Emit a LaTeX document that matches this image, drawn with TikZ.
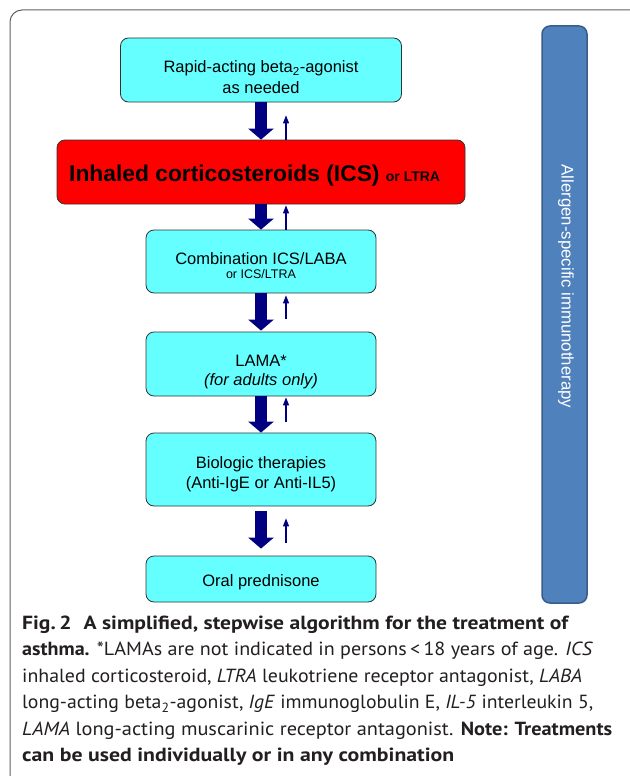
\documentclass[tikz,border=0pt]{standalone}
\usepackage{graphicx}
\usepackage{fontspec}
\setmainfont{Liberation Sans}
\newfontfamily\capfont{PT Sans}
\usetikzlibrary{arrows.meta,calc}
\definecolor{boxcyan}{HTML}{66FFFF}
\definecolor{arrownavy}{HTML}{000080}
\definecolor{barblue}{HTML}{4F81BD}
\definecolor{baredge}{HTML}{385D8A}
\definecolor{frameg}{HTML}{606060}
\definecolor{captxt}{HTML}{231F20}
\newcommand{\capfit}[2]{\resizebox{#1}{\height}{#2}}
\begin{document}
\begin{tikzpicture}[x=1pt,y=-1pt,
  stepbox/.style={draw=black!80, line width=0.8pt, rounded corners=8pt, fill=boxcyan, minimum width=230pt, inner sep=0pt},
  redbox/.style={draw=black!80, line width=0.8pt, rounded corners=8pt, fill=red, inner sep=0pt},
  boxtext/.style={anchor=base, inner sep=0pt, font=\fontsize{16.5}{20}\selectfont},
  smalltext/.style={anchor=base, inner sep=0pt, font=\fontsize{12.5}{15}\selectfont},
  bigarrow/.style={draw=arrownavy, line width=12pt, -{Triangle[width=25pt,length=11pt]}},
  thinarrow/.style={draw=arrownavy, line width=1.1pt, -{Triangle[width=6pt,length=8pt]}},
  capline/.style={anchor=base west, inner sep=0pt, text=captxt, font=\capfont\fontsize{19}{23}\selectfont},
]
\useasboundingbox (0,0) rectangle (629,776);
\fill[white] (0,0) rectangle (629,776);
\draw[frameg, line width=1pt, rounded corners=12pt] (10,777) -- (10,10) -- (630,10);

% boxes
\node[stepbox, minimum width=281pt, minimum height=64pt] (b1) at (261,70) {};
\node[redbox, minimum width=408pt, minimum height=64pt] (ics) at (261,172) {};
\node[stepbox, minimum height=63pt] (b2) at (261,261.5) {};
\node[stepbox, minimum height=64pt] (b3) at (261,364) {};
\node[stepbox, minimum height=73pt] (b4) at (261,469.5) {};
\node[stepbox, minimum height=46pt] (b5) at (261,579) {};

% texts
\node[boxtext] (t1a) at (261,73) {Rapid-acting beta\textsubscript{2}-agonist};
\node[boxtext] (t1b) at (261,93) {as needed};
\node[anchor=base west, inner sep=0pt] (tics) at (69,181.5) {\fontsize{22.8}{26}\selectfont\bfseries Inhaled corticosteroids (ICS) {\fontsize{14}{16}\selectfont or LTRA}};
\node[boxtext] (t2a) at (261,264) {Combination ICS/LABA};
\node[smalltext] (t2b) at (261,278.5) {or ICS/LTRA};
\node[boxtext] (t3a) at (261,366) {LAMA*};
\node[boxtext] (t3b) at (261,385) {\itshape (for adults only)};
\node[boxtext] (t4a) at (261,468) {Biologic therapies};
\node[boxtext] (t4b) at (261,488) {(Anti-IgE or Anti-IL5)};
\node[boxtext] (t5) at (261,586) {Oral prednisone};

% side bar
\node[draw=baredge, fill=barblue, line width=1.5pt, rounded corners=8pt, minimum width=45pt, minimum height=577pt, inner sep=0pt] (bar) at (564.5,314.5) {};
\node[rotate=-90, text=white, inner sep=0pt, font=\fontsize{16.8}{20}\selectfont] (bart) at (566,286.5) {Allergen-specific immunotherapy};

% arrows
\draw[bigarrow] (b1.south) -- (ics.north);
\draw[thinarrow, shorten >=13pt] ($(ics.north)+(25,0)$) -- ($(b1.south)+(25,0)$);
\draw[bigarrow] (ics.south) -- (b2.north);
\draw[thinarrow, shorten >=1pt] ($(b2.north)+(25,0)$) -- ($(ics.south)+(25,0)$);
\draw[bigarrow, shorten >=1pt] (b2.south) -- (b3.north);
\draw[thinarrow, shorten <=13pt, shorten >=2pt] ($(b3.north)+(25,0)$) -- ($(b2.south)+(25,0)$);
\draw[bigarrow] (b3.south) -- (b4.north);
\draw[thinarrow, shorten <=11pt, shorten >=1pt] ($(b4.north)+(25,0)$) -- ($(b3.south)+(25,0)$);
\draw[bigarrow, shorten <=5pt, shorten >=7pt] (b4.south) -- (b5.north);
\draw[thinarrow, shorten <=13pt, shorten >=12pt] ($(b5.north)+(25,0)$) -- ($(b4.south)+(25,0)$);

% caption
\node[capline] (c1) at (22,629) {\capfit{546pt}{\bfseries Fig.\,2\hspace{0.55em}A simplified, stepwise algorithm for the treatment of}};
\node[capline] (c2) at (22,655.5) {\capfit{571pt}{\textbf{asthma.} *LAMAs are not indicated in persons\,<\,18 years of age. \textit{ICS}}};
\node[capline] (c3) at (22,682) {\capfit{560pt}{inhaled corticosteroid, \textit{LTRA} leukotriene receptor antagonist, \textit{LABA}}};
\node[capline] (c4) at (22,708.5) {\capfit{571pt}{long-acting beta\textsubscript{2}-agonist, \textit{IgE} immunoglobulin E, \textit{IL-5} interleukin 5,}};
\node[capline] (c5) at (22,735) {\capfit{590pt}{\textit{LAMA} long-acting muscarinic receptor antagonist. \textbf{Note: Treatments}}};
\node[capline] (c6) at (22,761.5) {\capfit{432pt}{\bfseries can be used individually or in any combination}};
\end{tikzpicture}
\end{document}
